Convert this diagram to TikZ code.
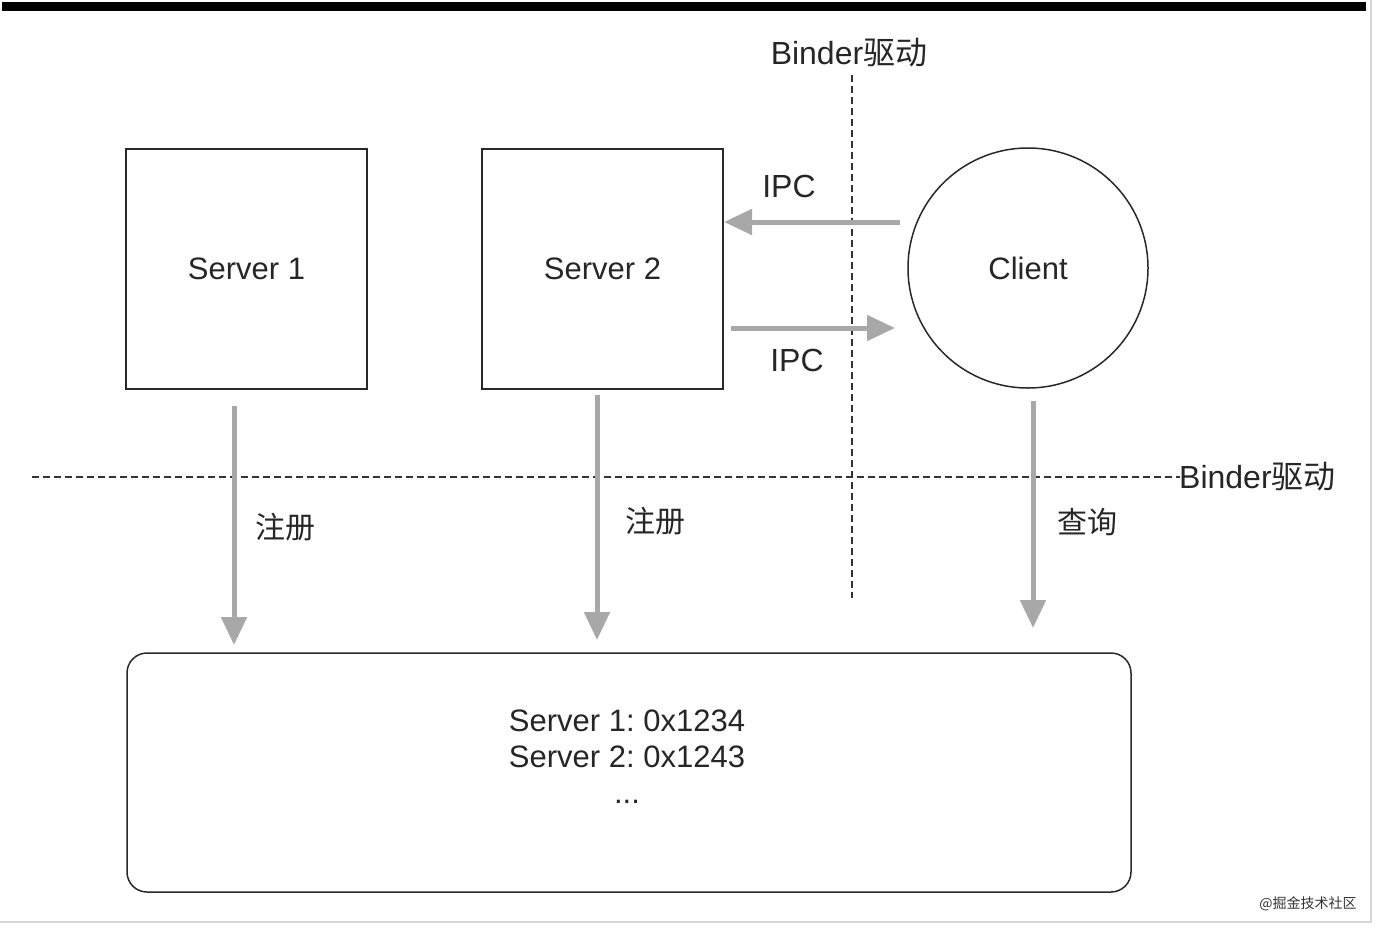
\documentclass[tikz,border=0pt]{standalone}
\usepackage{fontspec}
\setmainfont{Liberation Sans}
\newfontfamily\cjk{Noto Sans CJK SC}
\usetikzlibrary{arrows.meta}
\frenchspacing
\definecolor{arrgray}{RGB}{168,168,168}
\definecolor{boxline}{RGB}{40,40,40}
\definecolor{framegray}{RGB}{215,215,215}
\tikzset{
  lbl/.style={font=\fontsize{32}{36}\selectfont, text=black!85, inner sep=0pt},
  boxnode/.style={draw=boxline, line width=1.5pt, minimum width=241pt, minimum height=240pt, inner sep=0pt, font=\fontsize{31}{34}\selectfont, text=black!85},
  flow/.style={draw=arrgray, line width=5pt, -{Triangle[length=28pt,width=25pt]}, arrgray},
  divider/.style={draw=black!80, line width=1.5pt, dash pattern=on 7pt off 4pt}
}
\begin{document}
\begin{tikzpicture}[x=1pt,y=-1pt]
\useasboundingbox (0,0) rectangle (1376,930);
% frame
\fill[black] (2,2) rectangle (1366,11);
\draw[framegray, line width=2pt] (1371,0) -- (1371,922) -- (0,922);
% nodes
\node[boxnode] (s1) at (246.5,269) {Server 1};
\node[boxnode] (s2) at (602.5,269) {Server 2};
\node[circle, draw=boxline, line width=1.5pt, minimum size=240pt, inner sep=0pt, font=\fontsize{31}{34}\selectfont, text=black!85] (cl) at (1028,268) {Client};
\node[draw=boxline, line width=1.5pt, rounded corners=20pt, minimum width=1004pt, minimum height=239pt, inner sep=0pt] (reg) at (629,772.5) {};
\node[lbl, align=center, font=\fontsize{31}{36}\selectfont] (regtxt) at (627,757) {\frenchspacing Server 1: 0x1234\\\frenchspacing Server 2: 0x1243\\...};
% dividers
\coordinate (vtop) at (852,75);
\coordinate (vbot) at (852,598);
\coordinate (hl) at (32,477);
\coordinate (hr) at (1180,477);
\draw[divider] (vtop) -- (vbot);
\draw[divider] (hl) -- (hr);
\node[lbl, anchor=south] (bd1) at (849,67) {Binder{\cjk 驱动}};
\node[lbl, anchor=west] (bd2) at (1179,477) {Binder{\cjk 驱动}};
% IPC arrows
\coordinate (c1) at (900,222);
\coordinate (c1e) at (724,222);
\coordinate (c2) at (731,328);
\coordinate (c2e) at (895,328);
\draw[flow] (c1) -- (c1e);
\draw[flow] (c2) -- (c2e);
\node[lbl] (ipc1) at (789,186) {IPC};
\node[lbl] (ipc2) at (797,360) {IPC};
% register / query arrows
\coordinate (a1s) at (234,406);
\coordinate (a1e) at (234,645);
\coordinate (a2s) at (597,395);
\coordinate (a2e) at (597,640);
\coordinate (a3s) at (1033,401);
\coordinate (a3e) at (1033,628);
\draw[flow] (a1s) -- (a1e);
\draw[flow] (a2s) -- (a2e);
\draw[flow] (a3s) -- (a3e);
\node[lbl, font=\cjk\fontsize{30}{34}\selectfont] (r1) at (285,527) {注册};
\node[lbl, font=\cjk\fontsize{30}{34}\selectfont] (r2) at (655,521) {注册};
\node[lbl, font=\cjk\fontsize{30}{34}\selectfont] (q) at (1087,522) {查询};
% watermark
\node[lbl, font=\cjk\fontsize{14}{16}\selectfont, text=black!80] (wm) at (1308,904) {@掘金技术社区};
\end{tikzpicture}
\end{document}
